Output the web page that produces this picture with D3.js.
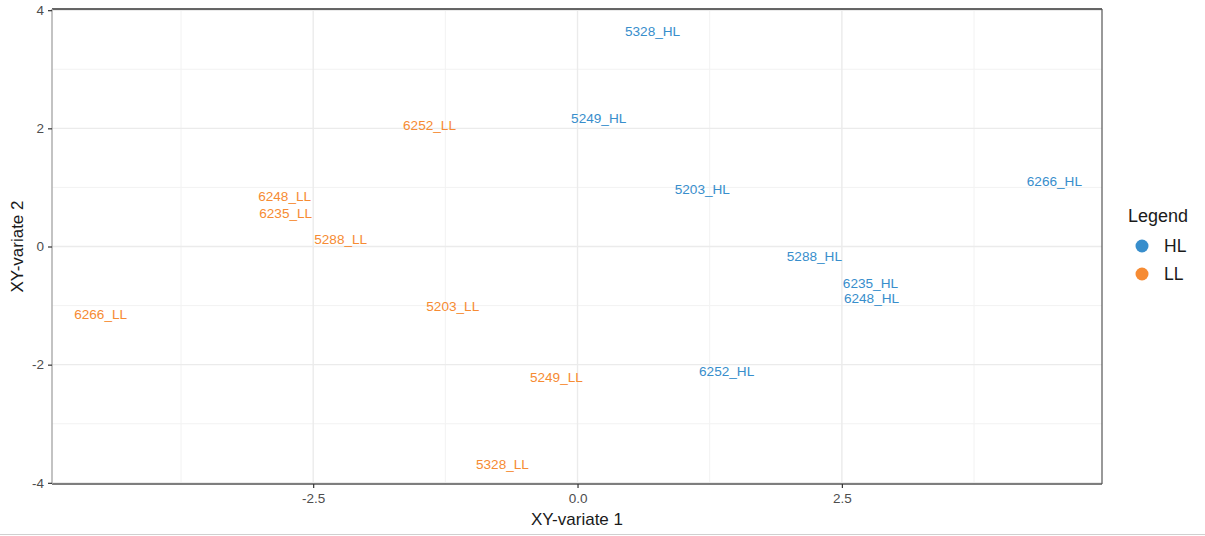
<!DOCTYPE html>
<html><head><meta charset="utf-8">
<script src="https://cdn.jsdelivr.net/npm/d3@7"></script>
<style>body{margin:0;background:#fff}svg{display:block;font-family:"Liberation Sans",Arial,sans-serif}</style>
</head><body><svg id="c" width="1205" height="536"></svg>
<script>
const samples = ["5328_HL","5249_HL","5203_HL","6266_HL","5288_HL","6235_HL","6248_HL","6252_HL",
                 "6252_LL","6248_LL","6235_LL","5288_LL","6266_LL","5203_LL","5249_LL","5328_LL"];
const groups  = ["HL","HL","HL","HL","HL","HL","HL","HL","LL","LL","LL","LL","LL","LL","LL","LL"];
const xVals = [0.71, 0.20, 1.18, 4.51, 2.24, 2.77, 2.78, 1.41, -1.40, -2.77, -2.76, -2.24, -4.51, -1.18, -0.20, -0.71];
const yVals = [3.64, 2.17, 0.96, 1.10, -0.17, -0.63, -0.88, -2.11, 2.05, 0.85, 0.56, 0.12, -1.15, -1.02, -2.22, -3.69];
const xTicks = [-2.5, 0, 2.5];
const yTicks = [-4, -2, 0, 2, 4];
const xMinor = [-3.75, -1.25, 1.25, 3.75];
const yMinor = [-3, -1, 1, 3];
const legendKeys = ["HL","LL"];
const legendColors = ["#388ECC","#F68B33"];

const svg = d3.select("#c");
const L = 52, R = 1102, T = 9, B = 484;
const x = d3.scaleLinear().domain([-4.97, 4.96]).range([L, R]);
const y = d3.scaleLinear().domain([-4.02, 4.02]).range([B, T]);
const color = d3.scaleOrdinal().domain(legendKeys).range(legendColors);

const g = svg.append("g");
g.selectAll(".vmin").data(xMinor).join("line").attr("x1", d=>x(d)).attr("x2", d=>x(d)).attr("y1", T).attr("y2", B).attr("stroke","#f2f2f2").attr("stroke-width",1);
g.selectAll(".hmin").data(yMinor).join("line").attr("y1", d=>y(d)).attr("y2", d=>y(d)).attr("x1", L).attr("x2", R).attr("stroke","#f2f2f2").attr("stroke-width",1);
g.selectAll(".vmaj").data(xTicks).join("line").attr("x1", d=>x(d)).attr("x2", d=>x(d)).attr("y1", T).attr("y2", B).attr("stroke","#ebebeb").attr("stroke-width",1.4);
g.selectAll(".hmaj").data(yTicks).join("line").attr("y1", d=>y(d)).attr("y2", d=>y(d)).attr("x1", L).attr("x2", R).attr("stroke","#ebebeb").attr("stroke-width",1.4);

svg.append("line").attr("x1",L).attr("x2",R).attr("y1",T).attr("y2",T).attr("stroke","#333").attr("stroke-width",1.3);
svg.append("line").attr("x1",L).attr("x2",R).attr("y1",B).attr("y2",B).attr("stroke","#555").attr("stroke-width",1.6);
svg.append("line").attr("x1",L).attr("x2",L).attr("y1",T).attr("y2",B).attr("stroke","#aaa").attr("stroke-width",1.4);
svg.append("line").attr("x1",R).attr("x2",R).attr("y1",T).attr("y2",B).attr("stroke","#555").attr("stroke-width",1.2);

const fmtX = d => d3.format(".1f")(d).replace("\u2212","-");
const fmtY = d => d3.format("d")(d).replace("\u2212","-");
const xAxis = d3.axisBottom(x).tickValues(xTicks).tickFormat(fmtX).tickSize(4).tickPadding(5);
const xa = svg.append("g").attr("transform",`translate(0,${B})`).call(xAxis);
const yAxis = d3.axisLeft(y).tickValues(yTicks).tickFormat(fmtY).tickSize(4).tickPadding(4);
const ya = svg.append("g").attr("transform",`translate(${L},0)`).call(yAxis);
[xa, ya].forEach(a => {
  a.select(".domain").remove();
  a.selectAll(".tick line").attr("stroke","#333").attr("stroke-width",1.2);
  a.selectAll(".tick text").attr("fill","#4d4d4d").style("font-size","13.5px").style("font-family","Liberation Sans, Arial, sans-serif");
});

svg.append("g").selectAll("text").data(samples).join("text")
  .attr("x",(d,i)=>x(xVals[i])).attr("y",(d,i)=>y(yVals[i]))
  .attr("text-anchor","middle").attr("dominant-baseline","central")
  .attr("fill",(d,i)=>color(groups[i])).style("font-size","13.6px")
  .text(d=>d);

svg.append("text").attr("x",(L+R)/2).attr("y",525).attr("text-anchor","middle").style("font-size","17px").attr("fill","#1a1a1a").text("XY-variate 1");
svg.append("text").attr("transform",`translate(23,${(T+B)/2}) rotate(-90)`).attr("text-anchor","middle").style("font-size","17px").attr("fill","#1a1a1a").text("XY-variate 2");

const lg = svg.append("g");
lg.append("text").attr("x",1128).attr("y",222).style("font-size","18px").attr("fill","#1a1a1a").text("Legend");
const items = lg.selectAll(".it").data(legendKeys).join("g").attr("transform",(d,i)=>`translate(0,${246+i*28})`);
items.append("circle").attr("cx",1142).attr("cy",0).attr("r",6.5).attr("fill",d=>color(d));
items.append("text").attr("x",1164).attr("y",0).attr("dominant-baseline","central").style("font-size","17.5px").attr("fill","#1a1a1a").text(d=>d);

svg.append("line").attr("x1",0).attr("x2",1205).attr("y1",534.5).attr("y2",534.5).attr("stroke","#d0d0d0").attr("stroke-width",1);
</script></body></html>
